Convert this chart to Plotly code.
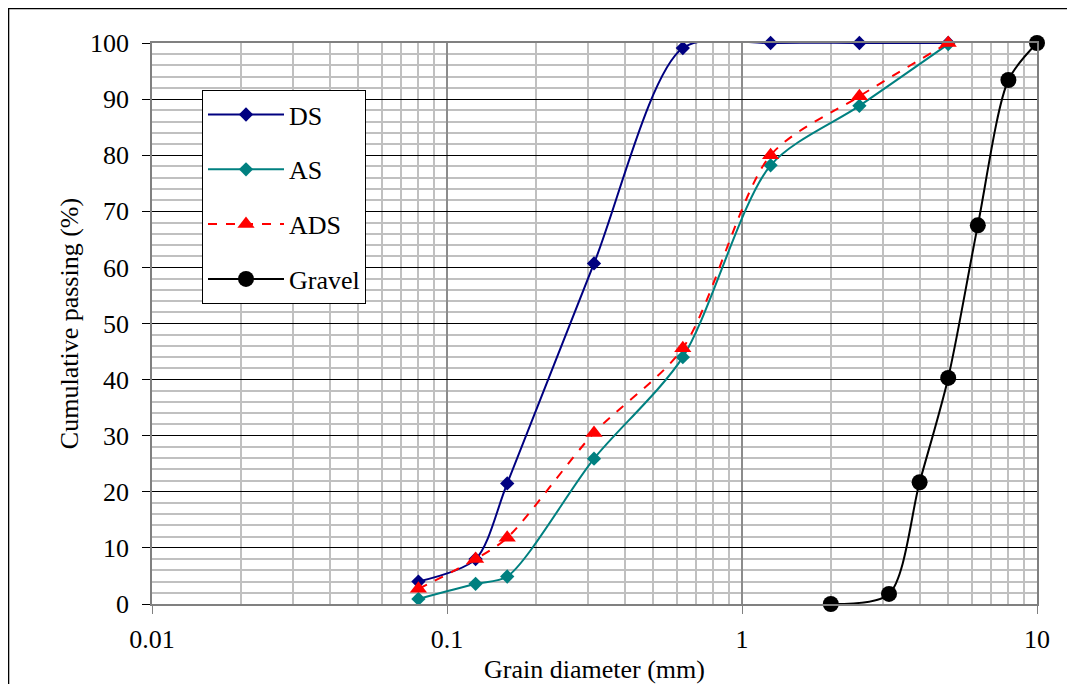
import plotly.graph_objects as go

sieve = [0.08, 0.125, 0.16, 0.315, 0.63, 1.25, 2.5, 5]
ds = [4.0, 8.0, 21.5, 60.7, 99.1, 100, 100, 100]
as_ = [0.9, 3.6, 4.9, 25.9, 44.0, 78.2, 88.8, 99.8]
ads = [2.7, 8.0, 11.8, 30.5, 45.6, 80.0, 90.5, 100]
gravel_d = [2, 3.15, 4, 5, 6.3, 8, 10]
gravel = [0.0, 1.8, 21.7, 40.3, 67.5, 93.4, 100]

FONT = "Liberation Serif"
FS = 26

fig = go.Figure()
fig.add_trace(go.Scatter(x=sieve, y=ds, name="DS", mode="lines+markers", legendgroup="a",
                         cliponaxis=False,
                         line=dict(color="#000080", width=2, shape="spline", smoothing=0.8),
                         marker=dict(symbol="diamond", size=11, color="#000080")))
fig.add_trace(go.Scatter(x=sieve, y=as_, name="AS", mode="lines+markers", legendgroup="b",
                         cliponaxis=False,
                         line=dict(color="#008080", width=2, shape="spline", smoothing=0.8),
                         marker=dict(symbol="diamond", size=11, color="#008080")))
fig.add_trace(go.Scatter(x=sieve, y=ads, name="ADS", mode="lines+markers", legendgroup="c",
                         cliponaxis=False,
                         line=dict(color="#ff0000", width=2, dash="dash", shape="spline", smoothing=0.8),
                         marker=dict(symbol="triangle-up", size=15, color="#ff0000")))
fig.add_trace(go.Scatter(x=gravel_d, y=gravel, name="Gravel", mode="lines+markers", legendgroup="d",
                         cliponaxis=False,
                         line=dict(color="#000000", width=2, shape="spline", smoothing=0.8),
                         marker=dict(symbol="circle", size=16, color="#000000")))

fig.update_layout(
    width=1067, height=676,
    margin=dict(l=144, r=38, t=35, b=80),
    paper_bgcolor="white", plot_bgcolor="white",
    font=dict(family=FONT, size=FS, color="black"),
    showlegend=True,
    legend=dict(x=0.0565, y=0.916, xanchor="left", yanchor="top",
                bgcolor="white", bordercolor="black", borderwidth=1,
                font=dict(family=FONT, size=FS), traceorder="grouped",
                tracegroupgap=18, itemwidth=76),
    shapes=[dict(type="rect", xref="paper", yref="paper", x0=-0.1621, x1=1.0384,
                 y0=-0.3, y1=1.0615, line=dict(color="black", width=1.5), layer="below")],
)
fig.update_xaxes(type="log", range=[-2, 1], automargin=False,
                 tickvals=[0.01, 0.1, 1, 10], ticktext=["0.01", "0.1", "1", "10"],
                 showgrid=True, gridcolor="#8c8c8c", gridwidth=1.5,
                 minor=dict(showgrid=True, dtick="D1", gridcolor="#c0c0c0", gridwidth=2, ticks=""),
                 ticks="outside", ticklen=8, tickcolor="#808080",
                 ticklabelstandoff=3,
                 showline=True, linecolor="#808080", linewidth=1.5, mirror=True,
                 zeroline=False,
                 title=dict(text="Grain diameter (mm)", font=dict(family=FONT, size=FS), standoff=16))
fig.update_yaxes(range=[0, 100], dtick=10, automargin=False,
                 showgrid=True, gridcolor="#000000", gridwidth=1,
                 minor=dict(showgrid=True, dtick=2, gridcolor="#c0c0c0", gridwidth=2, ticks=""),
                 ticks="outside", ticklen=8, tickcolor="#000000",
                 ticklabelstandoff=8,
                 showline=True, linecolor="#808080", linewidth=1.5, mirror=True,
                 zeroline=False,
                 title=dict(text="Cumulative passing (%)", font=dict(family=FONT, size=FS), standoff=4))

fig.write_html("out.html")
